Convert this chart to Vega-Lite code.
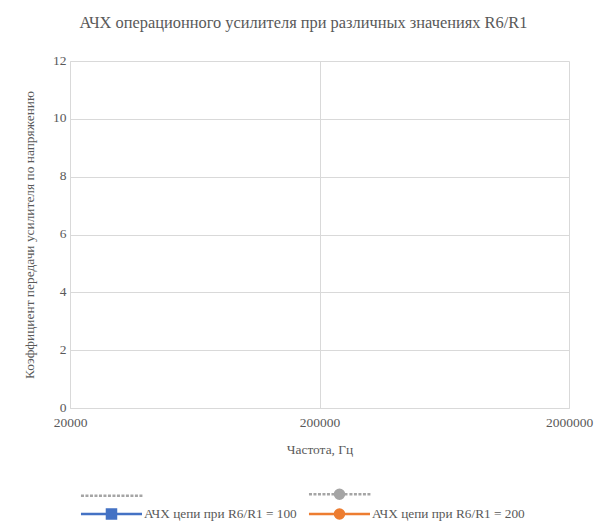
{
  "$schema": "https://vega.github.io/schema/vega-lite/v6.json",
  "width": 499,
  "height": 347,
  "autosize": "none",
  "padding": {"left": 70, "top": 61, "right": 37, "bottom": 116},
  "background": "white",
  "title": {
    "text": "АЧХ операционного усилителя при различных значениях R6/R1",
    "font": "Liberation Serif",
    "fontSize": 16.4,
    "fontWeight": "normal",
    "color": "#595959",
    "anchor": "middle",
    "dx": -16,
    "offset": 22
  },
  "data": {
    "values": [
      {"series": "Ряд1", "f": 20000, "k": null},
      {"series": "Ряд2", "f": 20000, "k": null},
      {"series": "АЧХ цепи при R6/R1 = 100", "f": 20000, "k": null},
      {"series": "АЧХ цепи при R6/R1 = 200", "f": 20000, "k": null}
    ]
  },
  "mark": {"type": "line", "strokeWidth": 2.5},
  "encoding": {
    "x": {
      "field": "f",
      "type": "quantitative",
      "scale": {"type": "log", "domain": [20000, 2000000]},
      "axis": {
        "values": [20000, 200000, 2000000],
        "format": "d",
        "labelFlush": false,
        "title": "Частота, Гц",
        "titlePadding": 14,
        "labelPadding": 7
      }
    },
    "y": {
      "field": "k",
      "type": "quantitative",
      "scale": {"domain": [0, 12]},
      "axis": {
        "values": [0, 2, 4, 6, 8, 10, 12],
        "title": "Коэффициент передачи усилителя по напряжению",
        "titlePadding": 16,
        "labelPadding": 4,
        "labelOffset": -1
      }
    },
    "color": {
      "field": "series",
      "type": "nominal",
      "scale": {
        "domain": ["Ряд1", "Ряд2", "АЧХ цепи при R6/R1 = 100", "АЧХ цепи при R6/R1 = 200"],
        "range": ["#a5a5a5", "#a5a5a5", "#4472c4", "#ed7d31"]
      },
      "legend": {
        "orient": "none",
        "legendX": 11,
        "legendY": 423,
        "columns": 2,
        "direction": "horizontal",
        "title": null,
        "labelExpr": "indexof(datum.label, 'АЧХ') < 0 ? '' : datum.label",
        "symbolSize": 289,
        "symbolStrokeWidth": 2.5,
        "labelOffset": 43,
        "columnPadding": 6,
        "rowPadding": -1,
        "encode": {
          "symbols": {
            "update": {
              "shape": {"signal": "datum.index == 0 ? 'M-1.18,0h0.353M-0.651,0h0.353M-0.122,0h0.353M0.407,0h0.353M0.936,0h0.353M1.465,0h0.353M1.994,0h0.353M2.523,0h0.353M3.052,0h0.353M3.581,0h0.353M4.11,0h0.353M4.639,0h0.353M5.168,0h0.353M5.697,0h0.353' : datum.index == 1 ? 'M-1.18,0h0.353M-0.651,0h0.353M-0.122,0h0.353M0.407,0h0.353M0.936,0h0.353M3.581,0h0.353M4.11,0h0.353M4.639,0h0.353M5.168,0h0.353M5.697,0h0.353M1.88,0A0.53,0.53,0,1,0,2.94,0A0.53,0.53,0,1,0,1.88,0ZM1.465,0H3.35' : datum.index == 2 ? 'M-1.18,0H6M1.88,-0.53H2.94V0.53H1.88Z' : 'M-1.18,0H6M1.88,0A0.53,0.53,0,1,0,2.94,0A0.53,0.53,0,1,0,1.88,0Z'"},
              "fill": {"signal": "scale('color', datum.value)"},
              "stroke": {"signal": "scale('color', datum.value)"}
            }
          }
        }
      }
    }
  },
  "config": {
    "font": "Liberation Serif",
    "view": {"stroke": null},
    "axis": {
      "labelFont": "Liberation Serif",
      "labelFontSize": 13.5,
      "labelColor": "#595959",
      "titleFont": "Liberation Serif",
      "titleFontSize": 13.4,
      "titleFontWeight": "normal",
      "titleColor": "#595959",
      "gridColor": "#d9d9d9",
      "domainColor": "#d9d9d9",
      "ticks": false
    },
    "legend": {
      "labelFont": "Liberation Serif",
      "labelFontSize": 13.3,
      "labelColor": "#595959"
    }
  }
}
